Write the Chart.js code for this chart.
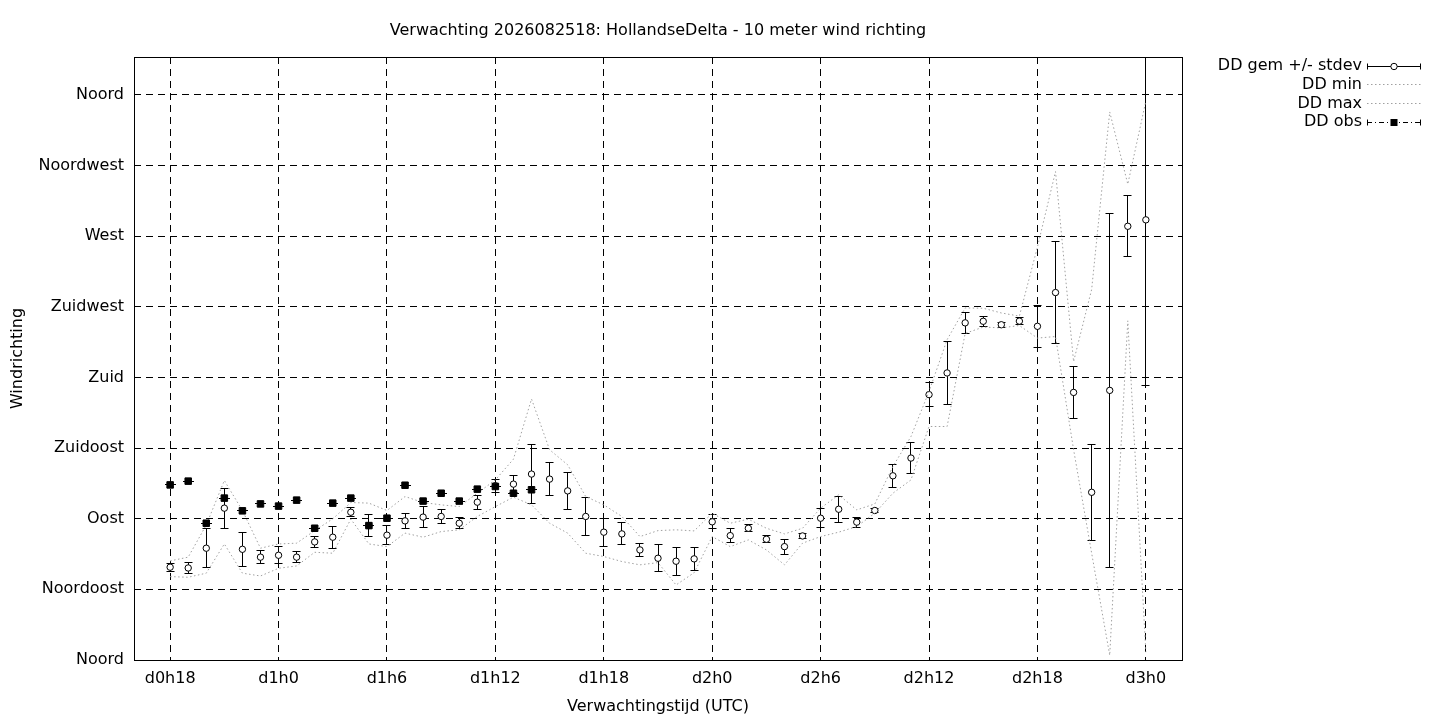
<!DOCTYPE html>
<html>
<head>
<meta charset="utf-8">
<title>Verwachting HollandseDelta - wind richting</title>
<style>
  html, body { margin: 0; padding: 0; background: #ffffff; }
  #wrap { width: 1440px; height: 720px; }
</style>
<script src="https://cdn.jsdelivr.net/npm/chart.js@4.4.1/dist/chart.umd.min.js"></script>
</head>
<body>
<div id="wrap"><canvas id="windChart" width="1440" height="720"></canvas></div>
<script>
// forecast lead time in hours since d0h0
var hours = [18, 19, 20, 21, 22, 23, 24, 25, 26, 27,
             28, 29, 30, 31, 32, 33, 34, 35, 36, 37,
             38, 39, 40, 41, 42, 43, 44, 45, 46, 47,
             48, 49, 50, 51, 52, 53, 54, 55, 56, 57,
             58, 59, 60, 61, 62, 63, 64, 65, 66, 67,
             68, 69, 70, 71, 72];

// wind direction in degrees
var ddMean = [59.1, 58.6, 71.2, 96.7, 70.5, 65.5, 66.7, 65.5, 75.2, 78.2,
              94.1, 85.6, 79.5, 88.6, 91.0, 91.4, 87.1, 100.5, 111.0, 112.0,
              118.4, 115.2, 107.7, 91.4, 81.4, 80.3, 70.1, 64.8, 62.9, 64.4,
              88.0, 79.2, 83.9, 76.9, 72.2, 79.0, 90.3, 96.0, 87.8, 95.2,
              117.3, 128.6, 169.0, 182.8, 214.7, 215.7, 213.5, 215.8, 212.5, 234.0,
              170.4, 106.8, 171.7, 276.2, 280.3];

var ddStdev = [2.5, 3.4, 12.4, 12.7, 11.0, 4.0, 5.4, 3.7, 3.4, 6.9,
               2.9, 6.8, 6.2, 5.0, 6.6, 4.7, 3.5, 4.5, 4.1, 5.6,
               18.7, 10.6, 11.7, 11.8, 9.0, 7.0, 4.1, 8.6, 8.9, 7.2,
               4.4, 4.5, 2.1, 2.3, 4.8, 1.5, 6.0, 8.2, 3.2, 1.5,
               7.3, 10.1, 7.6, 20.2, 6.6, 3.2, 1.5, 2.0, 13.4, 32.3,
               16.8, 30.4, 112.5, 19.4, 105.5];

var ddMin = [53.1, 52.7, 55.3, 73.9, 55.3, 53.5, 58.4, 59.9, 68.6, 68.0,
             89.7, 73.9, 72.2, 80.8, 78.2, 81.8, 82.9, 91.4, 97.7, 103.7,
             98.8, 87.1, 80.8, 68.0, 65.9, 62.7, 60.6, 62.0, 47.8, 55.6,
             78.6, 72.2, 76.5, 70.1, 60.6, 74.4, 78.6, 81.4, 85.0, 93.5,
             106.2, 114.7, 148.7, 148.7, 208.0, 212.0, 211.5, 213.0, 205.0, 206.0,
             134.0, 68.0, 3.0, 216.0, 5.0];

var ddMax = [63.1, 65.5, 86.0, 114.3, 95.2, 71.2, 73.9, 74.4, 82.4, 89.9,
             100.3, 99.9, 95.2, 104.1, 100.3, 98.8, 97.7, 106.2, 114.7, 127.9,
             166.2, 133.9, 124.3, 104.1, 98.8, 91.4, 78.6, 82.4, 82.9, 82.2,
             93.5, 87.1, 89.7, 83.9, 80.3, 83.9, 96.7, 105.2, 95.6, 99.4,
             123.2, 142.3, 171.0, 204.0, 224.2, 224.0, 221.0, 219.0, 263.0, 311.0,
             190.0, 236.0, 349.0, 303.0, 356.0];

var obsHours = [18, 19, 20, 21, 22, 23, 24, 25, 26, 27,
                28, 29, 30, 31, 32, 33, 34, 35, 36, 37, 38];
var ddObs = [111.5, 113.9, 87.1, 103.1, 95.0, 99.4, 98.0, 101.8, 83.9, 99.9,
             103.1, 85.6, 90.3, 111.3, 101.2, 106.2, 101.2, 108.8, 110.5, 106.2, 108.4];

var dirTicks = [0, 45, 90, 135, 180, 225, 270, 315, 360];
var dirLabels = ['Noord', 'Noordoost', 'Oost', 'Zuidoost', 'Zuid', 'Zuidwest', 'West', 'Noordwest', 'Noord'];
var timeTicks = [18, 24, 30, 36, 42, 48, 54, 60, 66, 72];

var GREY = 'rgb(160,160,160)';

function points(xs, ys) {
    var out = [];
    for (var i = 0; i < xs.length; i++) {
        out.push({x: xs[i], y: ys[i]});
    }
    return out;
}

// same snapping as chart.js uses for its 1px grid lines
function crisp(v) {
    return Math.round(v - 0.5) + 0.5;
}

// mean +/- stdev bars, drawn under the markers
var errorBars = {
    id: 'errorBars',
    beforeDatasetsDraw: function(chart) {
        var ctx = chart.ctx;
        var xs = chart.scales.x;
        var ys = chart.scales.y;
        var a = chart.chartArea;
        ctx.save();
        ctx.beginPath();
        ctx.rect(a.left, a.top, a.right - a.left, a.bottom - a.top);
        ctx.clip();
        ctx.strokeStyle = '#000';
        ctx.lineWidth = 1;
        ctx.beginPath();
        for (var i = 0; i < hours.length; i++) {
            var x = crisp(xs.getPixelForValue(hours[i]));
            var hi = crisp(ys.getPixelForValue(ddMean[i] + ddStdev[i]));
            var lo = crisp(ys.getPixelForValue(ddMean[i] - ddStdev[i]));
            ctx.moveTo(x, hi); ctx.lineTo(x, lo);
            ctx.moveTo(x - 4, hi); ctx.lineTo(x + 4, hi);
            ctx.moveTo(x - 4, lo); ctx.lineTo(x + 4, lo);
        }
        // observations have no spread, only the caps show
        for (var j = 0; j < obsHours.length; j++) {
            var ox = crisp(xs.getPixelForValue(obsHours[j]));
            var oy = crisp(ys.getPixelForValue(ddObs[j]));
            ctx.moveTo(ox - 5.5, oy); ctx.lineTo(ox + 5.5, oy);
        }
        ctx.stroke();
        ctx.restore();
    },
    afterDatasetsDraw: function(chart) {
        var a = chart.chartArea;
        var ctx = chart.ctx;
        ctx.save();
        ctx.strokeStyle = '#000';
        ctx.lineWidth = 1;
        ctx.strokeRect(crisp(a.left), crisp(a.top), Math.round(a.right - a.left), Math.round(a.bottom - a.top));
        ctx.restore();
    }
};

// gnuplot style key at the top right, text first and sample after it
var gnuKey = {
    id: 'gnuKey',
    afterDraw: function(chart) {
        var ctx = chart.ctx;
        var sets = chart.data.datasets;
        var textRight = 1362, x1 = 1367, x2 = 1421, xm = 1394;
        ctx.save();
        ctx.font = '16px "DejaVu Sans"';
        ctx.textAlign = 'right';
        ctx.textBaseline = 'middle';
        ctx.fillStyle = '#000';
        for (var i = 0; i < sets.length; i++) {
            var y = 66 + i * 18.7;
            var ly = crisp(y);
            ctx.fillText(sets[i].label, textRight, y);
            var kind = sets[i].keyKind;
            ctx.lineWidth = 1;
            if (kind === 'errbar' || kind === 'obs') {
                ctx.strokeStyle = '#000';
                ctx.setLineDash(kind === 'obs' ? [5, 3, 1, 3] : []);
                ctx.beginPath();
                ctx.moveTo(x1, ly); ctx.lineTo(x2, ly);
                ctx.stroke();
                ctx.setLineDash([]);
                ctx.beginPath();
                ctx.moveTo(x1 + 0.5, ly - 3); ctx.lineTo(x1 + 0.5, ly + 3);
                ctx.moveTo(x2 - 0.5, ly - 3); ctx.lineTo(x2 - 0.5, ly + 3);
                ctx.stroke();
                if (kind === 'errbar') {
                    ctx.beginPath();
                    ctx.arc(xm, ly, 3.2, 0, Math.PI * 2);
                    ctx.fillStyle = '#fff';
                    ctx.fill();
                    ctx.stroke();
                } else {
                    ctx.fillStyle = '#000';
                    ctx.fillRect(xm - 3.5, ly - 3.5, 7, 7);
                }
                ctx.fillStyle = '#000';
            } else {
                ctx.strokeStyle = GREY;
                ctx.setLineDash([1.5, 2.5]);
                ctx.beginPath();
                ctx.moveTo(x1, ly); ctx.lineTo(x2, ly);
                ctx.stroke();
                ctx.setLineDash([]);
            }
        }
        ctx.restore();
    }
};

Chart.defaults.font.family = '"DejaVu Sans", sans-serif';
Chart.defaults.font.size = 16;
Chart.defaults.color = '#000';

new Chart(document.getElementById('windChart'), {
    type: 'scatter',
    data: {
        datasets: [{
            label: 'DD gem +/- stdev',
            keyKind: 'errbar',
            data: points(hours, ddMean),
            pointStyle: 'circle',
            pointRadius: 3.2,
            pointBackgroundColor: '#fff',
            pointBorderColor: '#000',
            pointBorderWidth: 1,
            showLine: false,
            order: 3
        }, {
            label: 'DD min',
            keyKind: 'line',
            data: points(hours, ddMin),
            showLine: true,
            borderColor: GREY,
            borderWidth: 1,
            borderDash: [1.5, 2.5],
            tension: 0,
            pointRadius: 0,
            order: 2
        }, {
            label: 'DD max',
            keyKind: 'line',
            data: points(hours, ddMax),
            showLine: true,
            borderColor: GREY,
            borderWidth: 1,
            borderDash: [1.5, 2.5],
            tension: 0,
            pointRadius: 0,
            order: 1
        }, {
            label: 'DD obs',
            keyKind: 'obs',
            data: points(obsHours, ddObs),
            pointStyle: 'rect',
            pointRadius: 4.6,
            pointBackgroundColor: '#000',
            pointBorderColor: '#000',
            pointBorderWidth: 1,
            showLine: false,
            order: 0
        }]
    },
    options: {
        responsive: false,
        animation: false,
        events: [],
        layout: { padding: { left: 0, right: 258, top: 0, bottom: 0 } },
        plugins: {
            legend: { display: false },
            tooltip: { enabled: false },
            title: {
                display: true,
                fullSize: false,
                text: 'Verwachting 2026082518: HollandseDelta - 10 meter wind richting',
                font: { size: 16, weight: 'normal' },
                color: '#000',
                padding: { top: 21.2, bottom: 16.6 }
            }
        },
        scales: {
            x: {
                type: 'linear',
                position: 'bottom',
                min: 16,
                max: 74,
                afterBuildTicks: function(axis) {
                    axis.ticks = timeTicks.map(function(v) { return {value: v}; });
                },
                afterFit: function(axis) { axis.height = 60; },
                ticks: {
                    padding: 9.2,
                    maxRotation: 0,
                    autoSkip: false,
                    callback: function(v) {
                        return 'd' + Math.floor(v / 24) + 'h' + (v % 24);
                    }
                },
                grid: { color: '#000', lineWidth: 1, drawTicks: false },
                border: { display: false, dash: [7, 5] },
                title: {
                    display: true,
                    text: 'Verwachtingstijd (UTC)',
                    padding: { top: 0, bottom: 3.6 }
                }
            },
            y: {
                type: 'linear',
                position: 'left',
                min: 0,
                max: 384,
                afterBuildTicks: function(axis) {
                    axis.ticks = dirTicks.map(function(v) { return {value: v}; });
                },
                afterFit: function(axis) { axis.width = 134; },
                ticks: {
                    padding: 10,
                    autoSkip: false,
                    callback: function(v, i) { return dirLabels[i]; }
                },
                grid: { color: '#000', lineWidth: 1, drawTicks: false },
                border: { display: false, dash: [7, 5] },
                title: {
                    display: true,
                    text: 'Windrichting',
                    padding: { top: 8.4, bottom: 0 }
                }
            }
        }
    },
    plugins: [errorBars, gnuKey]
});
</script>
</body>
</html>
